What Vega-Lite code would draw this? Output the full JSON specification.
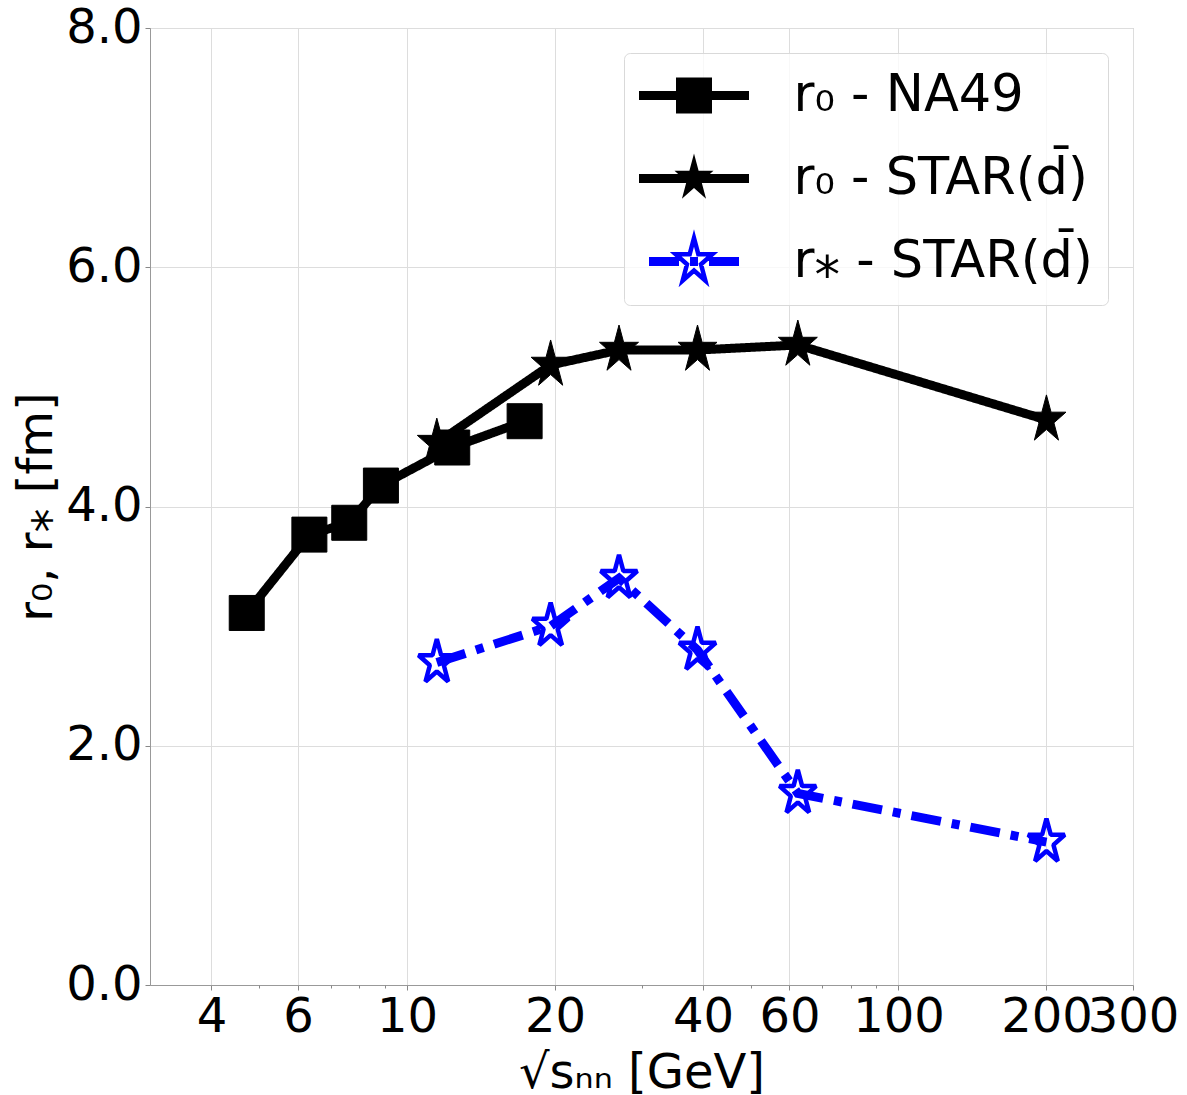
{
  "$schema": "https://vega.github.io/schema/vega-lite/v6.json",
  "width": 983,
  "height": 957,
  "autosize": {"type": "none"},
  "padding": {"left": 150, "top": 28, "right": 54, "bottom": 110},
  "background": "white",
  "config": {
    "font": "DejaVu Sans",
    "view": {"stroke": "#bbbbbb", "strokeWidth": 1},
    "axis": {
      "labelFont": "DejaVu Sans", "labelFontSize": 48, "labelColor": "black",
      "titleFont": "DejaVu Sans", "titleFontSize": 48, "titleFontWeight": "normal", "titleColor": "black",
      "gridColor": "#dddddd", "gridWidth": 1, "domainColor": "#999999",
      "tickColor": "#888888", "tickSize": 5, "labelPadding": 3
    },
    "legend": {
      "orient": "top-right", "offset": 25, "padding": 15, "rowPadding": 21,
      "labelOffset": 72, "symbolOffset": 27.5, "labelFont": "DejaVu Sans", "labelFontSize": 51, "labelColor": "black", "labelLimit": 800,
      "fillColor": "rgba(255,255,255,0.8)", "strokeColor": "#d9d9d9", "cornerRadius": 6,
      "symbolSize": 2500, "symbolStrokeWidth": 4.5, "symbolOpacity": 1
    }
  },
  "data": {"values": [
    {"series": "r₀ - NA49", "x": 4.72, "y": 3.11},
    {"series": "r₀ - NA49", "x": 6.33, "y": 3.765},
    {"series": "r₀ - NA49", "x": 7.63, "y": 3.864},
    {"series": "r₀ - NA49", "x": 8.85, "y": 4.175},
    {"series": "r₀ - NA49", "x": 12.36, "y": 4.493},
    {"series": "r₀ - NA49", "x": 17.35, "y": 4.713},
    {"series": "r₀ - STAR(d̄)", "x": 11.5, "y": 4.53},
    {"series": "r₀ - STAR(d̄)", "x": 19.6, "y": 5.183},
    {"series": "r₀ - STAR(d̄)", "x": 27.0, "y": 5.308},
    {"series": "r₀ - STAR(d̄)", "x": 39.0, "y": 5.308},
    {"series": "r₀ - STAR(d̄)", "x": 62.4, "y": 5.35},
    {"series": "r₀ - STAR(d̄)", "x": 200.0, "y": 4.724},
    {"series": "r⁎ - STAR(d̄)", "x": 11.5, "y": 2.696},
    {"series": "r⁎ - STAR(d̄)", "x": 19.6, "y": 3.0},
    {"series": "r⁎ - STAR(d̄)", "x": 27.0, "y": 3.4},
    {"series": "r⁎ - STAR(d̄)", "x": 39.0, "y": 2.8},
    {"series": "r⁎ - STAR(d̄)", "x": 62.4, "y": 1.602},
    {"series": "r⁎ - STAR(d̄)", "x": 200.0, "y": 1.195}
  ]},
  "layer": [
    {
      "mark": {"type": "line", "strokeWidth": 9, "strokeCap": "butt", "strokeJoin": "miter"},
      "encoding": {
        "x": {"field": "x", "type": "quantitative",
          "scale": {"type": "log", "domain": [3, 300], "nice": false},
          "axis": {"values": [4, 6, 10, 20, 40, 60, 100, 200, 300], "format": "d", "title": "√sₙₙ [GeV]",
            "labelOverlap": false, "labelBound": false, "labelFlush": false, "grid": true, "titlePadding": 8, "orient": "bottom"}},
        "y": {"field": "y", "type": "quantitative",
          "scale": {"domain": [0, 8], "nice": false},
          "axis": {"values": [0, 2, 4, 6, 8], "format": ".1f", "title": "r₀, r⁎ [fm]", "grid": true, "titlePadding": 4}},
        "detail": {"field": "series", "type": "nominal"},
        "color": {"condition": {"test": "indexof(datum.series,'r₀')<0", "value": "#0000ff"}, "value": "#000000"},
        "strokeDash": {"condition": {"test": "indexof(datum.series,'r₀')<0", "value": [30, 11, 8, 11]}, "value": [1, 0]}
      }
    },
    {
      "mark": {"type": "point", "filled": true, "size": 2500, "strokeJoin": "bevel", "opacity": 1},
      "encoding": {
        "x": {"field": "x", "type": "quantitative",
          "axis": {"values": [5, 7, 8, 9, 30, 50, 70, 80, 90], "labels": false, "grid": false, "domain": false, "title": null, "tickSize": 3, "orient": "bottom"}},
        "y": {"field": "y", "type": "quantitative"},
        "shape": {"field": "series", "type": "nominal",
          "scale": {"domain": ["r₀ - NA49", "r₀ - STAR(d̄)", "r⁎ - STAR(d̄)"],
            "range": [
              "M-0.7,-0.7H0.7V0.7H-0.7Z",
              "M0,-1L0.1841,-0.309L0.7799,-0.309L0.2979,0.118L0.482,0.809L0,0.382L-0.482,0.809L-0.2979,0.118L-0.7799,-0.309L-0.1841,-0.309Z",
              "M0,-0.94L0.1731,-0.2905L0.7331,-0.2905L0.28,0.1109L0.4531,0.7605L0,0.3591L-0.4531,0.7605L-0.28,0.1109L-0.7331,-0.2905L-0.1731,-0.2905Z"
            ]},
          "legend": null},
        "fill": {"condition": {"test": "indexof(datum.series,'r₀')<0", "value": "transparent"}, "value": "#000000"},
        "stroke": {"condition": {"test": "indexof(datum.series,'r₀')<0", "value": "#0000ff"}, "value": "#000000"},
        "strokeWidth": {"condition": {"test": "indexof(datum.series,'r₀')<0", "value": 4.5}, "value": 1}
      }
    },
    {
      "transform": [{"filter": "datum.x < 0"}],
      "mark": {"type": "point", "filled": true, "strokeJoin": "bevel", "strokeWidth": 4.5},
      "encoding": {
        "x": {"field": "x", "type": "quantitative", "axis": null},
        "y": {"field": "y", "type": "quantitative"},
        "shape": {"field": "series", "type": "nominal",
          "scale": {"domain": ["r₀ - NA49", "r₀ - STAR(d̄)", "r⁎ - STAR(d̄)"],
            "range": [
              "M-2.2,-0.18H2.2V0.18H-2.2Z M-0.72,-0.72H0.72V0.72H-0.72Z",
              "M-2.2,-0.18H2.2V0.18H-2.2Z M0,-1L0.1841,-0.309L0.7799,-0.309L0.2979,0.118L0.482,0.809L0,0.382L-0.482,0.809L-0.2979,0.118L-0.7799,-0.309L-0.1841,-0.309Z",
              "M-1.71,-0.09H-0.69V0.09H-1.71Z M-0.07,-0.09H0.07V0.09H-0.07Z M0.69,-0.09H1.71V0.09H0.69Z M0,-0.94L0.1731,-0.2905L0.7331,-0.2905L0.28,0.1109L0.4531,0.7605L0,0.3591L-0.4531,0.7605L-0.28,0.1109L-0.7331,-0.2905L-0.1731,-0.2905Z"
            ]},
          "legend": {"title": null}},
        "fill": {"field": "series", "type": "nominal",
          "scale": {"domain": ["r₀ - NA49", "r₀ - STAR(d̄)", "r⁎ - STAR(d̄)"], "range": ["#000000", "#000000", "transparent"]},
          "legend": {"title": null}},
        "stroke": {"field": "series", "type": "nominal",
          "scale": {"domain": ["r₀ - NA49", "r₀ - STAR(d̄)", "r⁎ - STAR(d̄)"], "range": ["transparent", "transparent", "#0000ff"]},
          "legend": {"title": null}}
      }
    }
  ],
  "resolve": {"axis": {"x": "independent"}, "scale": {"shape": "independent", "fill": "independent", "stroke": "independent"}}
}
